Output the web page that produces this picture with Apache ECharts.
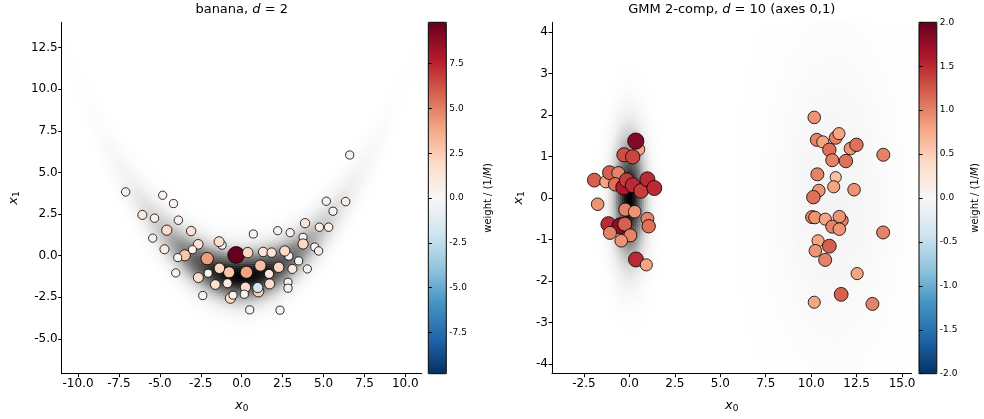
<!DOCTYPE html>
<html>
<head>
<meta charset="utf-8">
<script src="https://cdn.jsdelivr.net/npm/echarts@6/dist/echarts.min.js"></script>
<style>
  html, body { margin: 0; padding: 0; background: #fff; }
  #chart { width: 984px; height: 419px; }
</style>
</head>
<body>
<div id="chart"></div>
<script>
// ---------- banana target, d = 2: weighted samples ----------
const bananaX0 = [-0.34, 6.6, -7.09, -4.83, -4.17, -6.07, -5.33, -3.87, -4.58, -3.09, -5.44, -4.72, -2.66, -3.01,
  -1.2, -1.38, -3.48, -3.91, -2.11, 0.37, 0.71, 1.31, 1.83, 2.88, 2.63, 2.2, 2.96, 3.87, 3.75, 3.75, 4.75, 5.31,
  5.17, 6.35, 5.58, 4.46, 4.7, 3.48, 4.01, 3.1, 2.26, 1.67, 1.14, 0.29, -0.77, -1.36, -2.05, -2.65, -4.03, -1.61,
  -0.87, 0.23, 1.02, 0.98, 1.71, 2.83, 2.83, -2.38, -0.69, -0.53, 0.16, 0.49, 2.34];
const bananaX1 = [0.04, 6.05, 3.83, 3.63, 3.13, 2.45, 2.25, 2.13, 1.53, 1.48, 1.05, 0.38, 0.68, 0.36,
  0.63, 0.84, 0.02, -0.12, -0.18, 0.18, 1.30, 0.22, 0.18, -0.03, 0.28, 1.5, 1.38, 1.95, 1.1, 0.70, 1.71, 1.71,
  3.27, 3.25, 2.67, 0.52, 0.28, -0.32, -0.8, -0.8, -0.7, -1.1, -0.6, -1.0, -1.0, -0.76, -1.06, -1.32, -1.04, -1.74,
  -1.66, -1.9, -2.16, -1.92, -1.7, -1.6, -1.96, -2.4, -2.56, -2.38, -2.32, -3.26, -3.28];
const bananaW = [9.8, 0.3, 0.5, 0.4, 0.3, 1.0, 0.5, 0.6, 2.0, 1.3, 0.4, 1.0, 1.5, 0.2,
  0.3, 1.8, 2.8, 0.2, 4.2, 2.2, 0.3, 1.3, 1.3, 0.3, 2.0, 0.4, 0.4, 1.2, 0.2, 2.0, 0.5, 0.6,
  0.5, 0.6, 0.3, 0.2, 0.5, 0.3, 0.4, 1.0, 2.2, 1.0, 3.0, 4.0, 2.8, 2.2, 0.2, 1.8, 0.4, 1.5,
  1.0, 2.0, 2.5, -2.0, 1.8, 0.2, 0.3, 0.3, 2.0, 0.2, 0.3, 0.3, 0.3];

// ---------- 2-component GMM, d = 10, axes 0 and 1: weighted samples ----------
const gmmX0 = [0.51, 0.35, -0.3, 0.18, -1.93, -1.3, -1.1, -0.61, -0.79, -0.33, -0.15, 0.18, 0.64, 0.99, 1.37,
  -1.75, -0.23, 0.29, 0.99, 1.06, -1.16, -0.52, -0.26, -1.07, 0.05, -0.45, 0.36, 0.93,
  10.17, 10.31, 10.64, 11.35, 11.53, 11.0, 12.16, 12.49, 11.16, 11.91, 13.97, 10.34, 11.35, 11.24, 12.36,
  10.42, 10.12, 10.05, 10.21, 10.78, 11.68, 11.55, 11.16, 11.55, 13.96, 10.38, 11.0, 10.23, 10.77,
  12.53, 11.65, 10.17, 13.37];
const gmmX1 = [1.17, 1.37, 1.04, 0.99, 0.43, 0.39, 0.61, 0.6, 0.33, 0.26, 0.43, 0.31, 0.17, 0.45, 0.24,
  -0.15, -0.28, -0.33, -0.5, -0.68, -0.63, -0.67, -0.63, -0.84, -0.9, -1.03, -1.48, -1.61,
  1.94, 1.40, 1.35, 1.45, 1.55, 1.16, 1.19, 1.28, 0.91, 0.89, 1.04, 0.57, 0.5, 0.27, 0.2,
  0.18, 0.02, -0.46, -0.47, -0.51, -0.54, -0.45, -0.69, -0.75, -0.83, -1.03, -1.16, -1.27, -1.49,
  -1.82, -2.32, -2.51, -2.55];
const gmmW = [0.8, 1.85, 1.3, 1.35, 1.2, 0.8, 1.2, 1.0, 1.1, 1.6, 1.4, 1.5, 1.4, 1.5, 1.5,
  0.9, 1.0, 0.9, 1.0, 1.1, 1.5, 1.8, 1.2, 1.0, 1.0, 0.9, 1.5, 0.8,
  0.9, 1.0, 0.8, 1.0, 0.8, 1.1, 0.9, 1.1, 1.0, 1.1, 1.0, 1.0, 0.6, 0.8, 0.9,
  0.9, 1.1, 1.0, 0.9, 0.8, 1.0, 0.9, 1.0, 0.9, 1.0, 0.8, 1.2, 0.9, 1.0,
  0.8, 1.2, 0.8, 1.0];

// ---------- tick labels ----------
const bananaXTicks = [-10, -7.5, -5, -2.5, 0, 2.5, 5, 7.5, 10];
const bananaYTicks = [-5, -2.5, 0, 2.5, 5, 7.5, 10, 12.5];
const bananaCbarTicks = [-7.5, -5, -2.5, 0, 2.5, 5, 7.5];
const gmmXTicks = [-2.5, 0, 2.5, 5, 7.5, 10, 12.5, 15];
const gmmYTicks = [-4, -3, -2, -1, 0, 1, 2, 3, 4];
const gmmCbarTicks = [-2, -1.5, -1, -0.5, 0, 0.5, 1, 1.5, 2];

// ---------- axis ranges and colour scale limits ----------
const bananaXRange = [-11, 11];
const bananaYRange = [-7.1, 14.03];
const bananaWLim = 9.8;
const gmmXRange = [-4.26, 15.52];
const gmmYRange = [-4.23, 4.23];
const gmmWLim = 2.0;

// ---------- target densities (background shading) ----------
const banana = { s0: 2.9, s1: 0.9, b: 0.115, c: 1.2, gamma: 0.75 };
function bananaDensity(x0, x1) {
  const r = x1 - banana.b * x0 * x0 + banana.c;
  const p = Math.exp(-x0 * x0 / (2 * banana.s0 * banana.s0)) * Math.exp(-r * r / (2 * banana.s1 * banana.s1));
  return Math.pow(p, banana.gamma);
}
const gmmComps = [
  { w: 0.5, mx: 0.0, my: 0.0, sx: 0.6, sy: 1.0 },
  { w: 0.42, mx: 11.2, my: 0.0, sx: 2.2, sy: 2.5 }
];
function gmmDensity(x0, x1) {
  let p = 0;
  for (const c of gmmComps) {
    const u = (x0 - c.mx) / c.sx, v = (x1 - c.my) / c.sy;
    p += c.w / (c.sx * c.sy) * Math.exp(-0.5 * (u * u + v * v));
  }
  const c0 = gmmComps[0];
  return p / (c0.w / (c0.sx * c0.sy));
}
function densityGrid(fn, xr, yr, nx, ny) {
  const dx = (xr[1] - xr[0]) / nx, dy = (yr[1] - yr[0]) / ny;
  const out = [];
  for (let i = 0; i < nx; i++) {
    const x = xr[0] + (i + 0.5) * dx;
    for (let j = 0; j < ny; j++) {
      const y = yr[0] + (j + 0.5) * dy;
      const g = Math.min(1, fn(x, y));
      if (g > 0.0004) out.push([x, y, g]);
    }
  }
  return { data: out, dx: dx, dy: dy };
}
const bananaField = densityGrid(bananaDensity, bananaXRange, bananaYRange, 180, 175);
const gmmField = densityGrid(gmmDensity, gmmXRange, gmmYRange, 180, 175);

// ---------- styling ----------
const FONT = 'DejaVu Sans';
const RDBU_R = ['#053061', '#2166ac', '#4393c3', '#92c5de', '#d1e5f0', '#f7f7f7',
  '#fddbc7', '#f4a582', '#d6604d', '#b2182b', '#67001f'];
const GREYS = ['#ffffff', '#f0f0f0', '#d9d9d9', '#bdbdbd', '#969696', '#737373', '#525252', '#252525', '#000000'];

const TOP = 22.3, H = 351.4;
const gL = { left: 61.7, top: TOP, width: 360, height: H };
const gLC = { left: 428.3, top: TOP, width: 18, height: H };
const gR = { left: 552, top: TOP, width: 359.5, height: H };
const gRC = { left: 919, top: TOP, width: 17.8, height: H };

const mathRich = {
  i: { fontFamily: FONT, fontStyle: 'italic', fontSize: 13, color: '#000' },
  s: { fontFamily: FONT, fontSize: 9, color: '#000', verticalAlign: 'bottom', padding: [6, 0, 0, 0] }
};

function valueAxis(gridIndex, range, ticks, fmt, extra) {
  return Object.assign({
    type: 'value', gridIndex: gridIndex, min: range[0], max: range[1], z: 5,
    axisLine: { show: true, onZero: false, lineStyle: { color: '#000', width: 1 } },
    axisTick: { show: true, inside: false, length: 3.5, lineStyle: { color: '#000', width: 1 }, customValues: ticks },
    axisLabel: { customValues: ticks, formatter: fmt, fontSize: 12, color: '#000', fontFamily: FONT, margin: 4 },
    splitLine: { show: false }
  }, extra || {});
}
const fmt1 = v => v.toFixed(1);
const fmt0 = v => String(v);

function cbarAxis(gridIndex, lim, ticks, gap) {
  return {
    type: 'value', gridIndex: gridIndex, min: -lim, max: lim, position: 'right', z: 5,
    axisLine: { show: false },
    axisTick: { show: true, inside: false, length: 3.5, lineStyle: { color: '#000', width: 1 }, customValues: ticks },
    axisLabel: { customValues: ticks, formatter: fmt1, fontSize: 9, color: '#000', fontFamily: FONT, margin: 3 },
    splitLine: { show: false },
    name: 'weight / (1/{i|M})', nameLocation: 'middle', nameRotate: 90, nameGap: gap,
    nameTextStyle: { fontFamily: FONT, fontSize: 10, color: '#000',
      rich: { i: { fontFamily: FONT, fontStyle: 'italic', fontSize: 10, color: '#000' } } }
  };
}

function cellRenderer(field) {
  return function (params, api) {
    const x = api.value(0), y = api.value(1);
    const p0 = api.coord([x - field.dx / 2, y + field.dy / 2]);
    const p1 = api.coord([x + field.dx / 2, y - field.dy / 2]);
    return {
      type: 'rect', silent: true,
      shape: { x: p0[0], y: p0[1], width: p1[0] - p0[0] + 0.5, height: p1[1] - p0[1] + 0.5 },
      style: { fill: api.visual('color') }
    };
  };
}

function markerSize(lim) {
  return v => Math.sqrt(60 + 220 * Math.abs(v[2]) / lim);
}

const option = {
  animation: false,
  backgroundColor: '#fff',
  grid: [
    Object.assign({}, gL),
    Object.assign({}, gLC),
    Object.assign({}, gR),
    Object.assign({}, gRC)
  ],
  xAxis: [
    valueAxis(0, bananaXRange, bananaXTicks, fmt1, {
      name: '{i|x}{s|0}', nameLocation: 'middle', nameGap: 24,
      nameTextStyle: { rich: mathRich }
    }),
    { type: 'value', gridIndex: 1, min: 0, max: 1, show: false },
    valueAxis(2, gmmXRange, gmmXTicks, fmt1, {
      name: '{i|x}{s|0}', nameLocation: 'middle', nameGap: 24,
      nameTextStyle: { rich: mathRich }
    }),
    { type: 'value', gridIndex: 3, min: 0, max: 1, show: false }
  ],
  yAxis: [
    valueAxis(0, bananaYRange, bananaYTicks, fmt1, {
      name: '{i|x}{s|1}', nameLocation: 'middle', nameGap: 41, nameRotate: 90,
      nameTextStyle: { rich: mathRich }
    }),
    cbarAxis(1, bananaWLim, bananaCbarTicks, 37),
    valueAxis(2, gmmYRange, gmmYTicks, fmt0, {
      name: '{i|x}{s|1}', nameLocation: 'middle', nameGap: 26, nameRotate: 90,
      nameTextStyle: { rich: mathRich }
    }),
    cbarAxis(3, gmmWLim, gmmCbarTicks, 34)
  ],
  visualMap: [
    {
      type: 'continuous', seriesIndex: 1, dimension: 2, min: -bananaWLim, max: bananaWLim,
      inRange: { color: RDBU_R }, calculable: false, hoverLink: false, orient: 'vertical',
      left: gLC.left, top: gLC.top, itemWidth: gLC.width, itemHeight: gLC.height, padding: 0, text: null
    },
    {
      type: 'continuous', seriesIndex: 3, dimension: 2, min: -gmmWLim, max: gmmWLim,
      inRange: { color: RDBU_R }, calculable: false, hoverLink: false, orient: 'vertical',
      left: gRC.left, top: gRC.top, itemWidth: gRC.width, itemHeight: gRC.height, padding: 0, text: null
    },
    { type: 'continuous', show: false, seriesIndex: [0, 2], dimension: 2, min: 0, max: 1, inRange: { color: GREYS } }
  ],
  series: [
    {
      type: 'custom', xAxisIndex: 0, yAxisIndex: 0, data: bananaField.data,
      renderItem: cellRenderer(bananaField), progressive: 0, z: 1, silent: true
    },
    {
      type: 'scatter', xAxisIndex: 0, yAxisIndex: 0, z: 6,
      data: bananaX0.map((x, i) => [x, bananaX1[i], bananaW[i]]),
      symbol: 'circle', symbolSize: markerSize(bananaWLim),
      itemStyle: { borderColor: '#000', borderWidth: 0.8, opacity: 1 }
    },
    {
      type: 'custom', xAxisIndex: 2, yAxisIndex: 2, data: gmmField.data,
      renderItem: cellRenderer(gmmField), progressive: 0, z: 1, silent: true
    },
    {
      type: 'scatter', xAxisIndex: 2, yAxisIndex: 2, z: 6,
      data: gmmX0.map((x, i) => [x, gmmX1[i], gmmW[i]]),
      symbol: 'circle', symbolSize: markerSize(gmmWLim),
      itemStyle: { borderColor: '#000', borderWidth: 0.8, opacity: 1 }
    }
  ],
  graphic: [
    {
      type: 'text', x: gL.left + gL.width / 2, y: 10, z: 10,
      style: { text: 'banana, {i|d} = 2', align: 'center', verticalAlign: 'middle',
        fontFamily: FONT, fontSize: 13, fill: '#000', rich: { i: { fontFamily: FONT, fontStyle: 'italic', fontSize: 13 } } }
    },
    {
      type: 'text', x: gR.left + gR.width / 2, y: 10, z: 10,
      style: { text: 'GMM 2-comp, {i|d} = 10 (axes 0,1)', align: 'center', verticalAlign: 'middle',
        fontFamily: FONT, fontSize: 13, fill: '#000', rich: { i: { fontFamily: FONT, fontStyle: 'italic', fontSize: 13 } } }
    },
    {
      type: 'rect', z: 10, silent: true,
      shape: { x: gLC.left, y: gLC.top, width: gLC.width, height: gLC.height },
      style: { fill: 'none', stroke: '#000', lineWidth: 1 }
    },
    {
      type: 'rect', z: 10, silent: true,
      shape: { x: gRC.left, y: gRC.top, width: gRC.width, height: gRC.height },
      style: { fill: 'none', stroke: '#000', lineWidth: 1 }
    }
  ]
};

const chart = echarts.init(document.getElementById('chart'), null, { renderer: 'canvas' });
chart.setOption(option);
</script>
</body>
</html>
